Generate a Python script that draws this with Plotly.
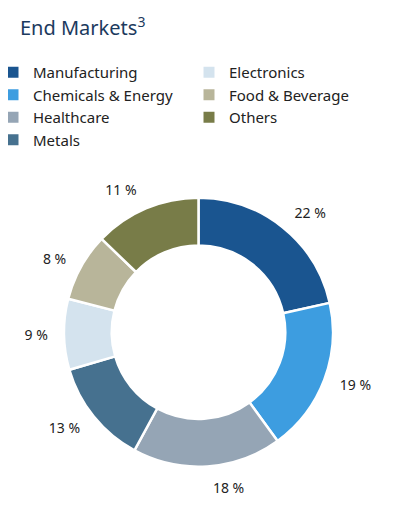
import plotly.graph_objects as go

labels = ["Manufacturing", "Chemicals & Energy", "Healthcare", "Metals",
          "Electronics", "Food & Beverage", "Others"]
# percentages printed on the chart
label_pct = [22, 19, 18, 13, 9, 8, 11]
# slice shares as drawn in the reference (measured from slice boundaries)
shares = [21.5, 18.5, 17.9, 12.6, 8.5, 8.2, 12.8]
colors = ["#1a5590", "#3d9de0", "#95a5b5", "#46718f",
          "#d4e3ee", "#b8b59a", "#787c48"]
legend_col1 = ["Manufacturing", "Chemicals & Energy", "Healthcare", "Metals"]
legend_col2 = ["Electronics", "Food & Beverage", "Others"]

W, H = 393, 511
# page body adds an 8px offset; positions below are in figure pixels
cx, cy, r = 190.5, 324.2, 134.5
r_lab = 146


def dom(rad):
    return dict(x=[(cx - rad) / W, (cx + rad) / W],
                y=[(H - cy - rad) / H, (H - cy + rad) / H])


fig = go.Figure()
# transparent slightly larger ring that carries the percentage labels outside
fig.add_trace(go.Pie(
    labels=labels, values=shares, customdata=label_pct,
    sort=False, direction="clockwise", rotation=0, hole=0.9,
    marker=dict(colors=["rgba(0,0,0,0)"] * len(labels), line=dict(width=0)),
    texttemplate="%{customdata} %", textposition="outside",
    textfont=dict(family="Noto Sans", size=14, color="#222222"),
    showlegend=False, hoverinfo="skip",
    domain=dom(r_lab),
))
fig.add_trace(go.Pie(
    labels=labels, values=shares, customdata=label_pct,
    sort=False, direction="clockwise", rotation=0, hole=0.645,
    marker=dict(colors=colors, line=dict(color="white", width=2.5)),
    textinfo="none",
    showlegend=False, hovertemplate="%{label}: %{customdata} %<extra></extra>",
    domain=dom(r),
))

color_of = dict(zip(labels, colors))
for name in legend_col1:
    fig.add_trace(go.Scatter(x=[None], y=[None], mode="markers", name=name,
                             marker=dict(symbol="square", size=11, color=color_of[name]),
                             legend="legend"))
for name in legend_col2:
    fig.add_trace(go.Scatter(x=[None], y=[None], mode="markers", name=name,
                             marker=dict(symbol="square", size=11, color=color_of[name]),
                             legend="legend2"))

legend_common = dict(font=dict(family="Noto Sans", size=15, color="#222222"),
                     bgcolor="rgba(0,0,0,0)", itemwidth=30, tracegroupgap=0,
                     xanchor="left", yanchor="top", orientation="v")
fig.update_layout(
    width=W, height=H,
    margin=dict(l=0, r=0, t=0, b=0, autoexpand=False),
    paper_bgcolor="white", plot_bgcolor="white",
    title=dict(text="End Markets<sup>3</sup>", x=12 / W, xanchor="left",
               y=1 - 20 / H, yanchor="middle",
               font=dict(family="Noto Sans", size=20, color="#1c3a5e")),
    xaxis=dict(visible=False), yaxis=dict(visible=False),
    legend=dict(x=-15 / W, y=1 - 48 / H, **legend_common),
    legend2=dict(x=181 / W, y=1 - 48 / H, **legend_common),
)

fig.write_html("out.html")
